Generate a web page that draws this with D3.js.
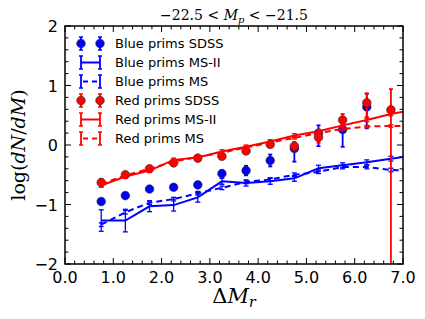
<!DOCTYPE html>
<html>
<head>
<meta charset="utf-8">
<script src="https://cdn.jsdelivr.net/npm/d3@7/dist/d3.min.js"></script>
<style>
  body { margin: 0; background: #fff; }
  svg { display: block; }
  .tick-label { font-family: "DejaVu Sans", sans-serif; font-size: 16px; fill: #000; }
  .legend text { font-family: "DejaVu Sans", sans-serif; font-size: 13px; fill: #000; }
  .serif { font-family: "DejaVu Serif", "Liberation Serif", serif; fill: #000; }
</style>
</head>
<body>
<svg id="chart"></svg>
<script>
// bin centres (Delta M_r)
var xBins = [0.75, 1.25, 1.75, 2.25, 2.75, 3.25, 3.75, 4.25, 4.75, 5.25, 5.75, 6.25, 6.75];
var xModel = [0.75, 1.25, 1.75, 2.25, 2.75, 3.25, 3.75, 4.25, 4.75, 5.25, 5.75, 6.25, 6.75, 7.25];

// SDSS points
var blueSDSS   = [-0.95, -0.85, -0.74, -0.71, -0.67, -0.48, -0.43, -0.26, -0.06, 0.20, 0.26, 0.64, null];
var blueSDSSLo = [0.02, 0.02, 0.02, 0.02, 0.02, 0.05, 0.08, 0.10, 0.22, 0.22, 0.29, 0.36, 0];
var blueSDSSHi = [0.02, 0.02, 0.02, 0.02, 0.02, 0.05, 0.08, 0.10, 0.08, 0.13, 0.08, 0.22, 0];
var redSDSS    = [-0.63, -0.50, -0.40, -0.30, -0.22, -0.19, -0.10, 0.01, -0.02, 0.13, 0.42, 0.71, 0.59];
var redSDSSLo  = [0.06, 0.03, 0.03, 0.03, 0.03, 0.03, 0.04, 0.04, 0.07, 0.09, 0.09, 0.24, 3.0];
var redSDSSHi  = [0.06, 0.03, 0.03, 0.03, 0.03, 0.03, 0.04, 0.04, 0.07, 0.09, 0.10, 0.16, 0.35];

// model curves
var blueMS2    = [-1.27, -1.27, -1.03, -1.01, -0.88, -0.61, -0.64, -0.61, -0.56, -0.39, -0.34, -0.29, -0.23, -0.17];
var blueMS2Err = [0.18, 0.19, 0.09, 0.10, 0.08, 0.05, 0.05, 0.05, 0.05, 0.05, 0.04, 0.04, 0.04, 0.04];
var blueMS     = [-1.34, -1.13, -0.97, -0.91, -0.81, -0.72, -0.62, -0.58, -0.50, -0.45, -0.37, -0.37, -0.42, -0.43];
var blueMSErr  = [0.03, 0.03, 0.03, 0.03, 0.03, 0.03, 0.03, 0.03, 0.03, 0.03, 0.03, 0.03, 0.03, 0.03];
var redMS2     = [-0.68, -0.53, -0.43, -0.25, -0.21, -0.11, -0.03, 0.06, 0.16, 0.23, 0.33, 0.42, 0.52, 0.60];
var redMS2Err  = [0.03, 0.03, 0.03, 0.03, 0.03, 0.03, 0.03, 0.03, 0.03, 0.03, 0.03, 0.03, 0.03, 0.03];
var redMS      = [-0.66, -0.51, -0.40, -0.28, -0.20, -0.13, -0.04, 0.04, 0.12, 0.20, 0.27, 0.31, 0.32, 0.32];
var redMSErr   = [0.02, 0.02, 0.02, 0.02, 0.02, 0.02, 0.02, 0.02, 0.02, 0.02, 0.02, 0.02, 0.02, 0.02];

var xTicks = [0, 1, 2, 3, 4, 5, 6, 7];
var yTicks = [-2, -1, 0, 1, 2];
var legendLabels = ['Blue prims SDSS', 'Blue prims MS-II', 'Blue prims MS',
                    'Red prims SDSS', 'Red prims MS-II', 'Red prims MS'];

(function() {
    'use strict';

    var WIDTH = 425, HEIGHT = 319;
    var margin = { left: 65, right: 22, top: 26, bottom: 55 };
    var BLUE = '#0000ff', RED = '#ff0000';

    var svg = d3.select('#chart').attr('width', WIDTH).attr('height', HEIGHT);

    var x = d3.scaleLinear().domain([0, 7]).range([margin.left, WIDTH - margin.right]);
    var y = d3.scaleLinear().domain([-2, 2]).range([HEIGHT - margin.bottom, margin.top]);

    svg.append('clipPath').attr('id', 'plot-clip')
        .append('rect')
            .attr('x', x(0)).attr('y', y(2))
            .attr('width', x(7) - x(0)).attr('height', y(-2) - y(2));

    var plot = svg.append('g').attr('clip-path', 'url(#plot-clip)');

    function errorBars(g, xs, ys, lo, hi, color, cap, width) {
        var pts = xs.map((d, i) => ({ x: d, y: ys[i], lo: lo[i], hi: hi[i] })).filter(d => d.y !== null);
        var eb = g.append('g').attr('stroke', color).attr('stroke-width', width);
        eb.selectAll('line.bar').data(pts).enter()
            .append('line')
                .attr('class', 'bar')
                .attr('x1', d => x(d.x)).attr('x2', d => x(d.x))
                .attr('y1', d => y(d.y - d.lo)).attr('y2', d => y(d.y + d.hi));
        if (cap > 0) {
            eb.selectAll('line.capT').data(pts).enter()
                .append('line')
                    .attr('x1', d => x(d.x) - cap).attr('x2', d => x(d.x) + cap)
                    .attr('y1', d => y(d.y + d.hi)).attr('y2', d => y(d.y + d.hi));
            eb.selectAll('line.capB').data(pts).enter()
                .append('line')
                    .attr('x1', d => x(d.x) - cap).attr('x2', d => x(d.x) + cap)
                    .attr('y1', d => y(d.y - d.lo)).attr('y2', d => y(d.y - d.lo));
        }
    }

    function points(g, xs, ys, color) {
        var pts = xs.map((d, i) => ({ x: d, y: ys[i] })).filter(d => d.y !== null);
        g.append('g').selectAll('circle').data(pts).enter()
            .append('circle')
                .attr('cx', d => x(d.x)).attr('cy', d => y(d.y)).attr('r', 4.3)
                .attr('fill', color).attr('stroke', '#222').attr('stroke-width', 0.6);
    }

    function curve(g, xs, ys, err, color, dash) {
        var line = d3.line().x((d, i) => x(xs[i])).y(d => y(d));
        g.append('path')
            .attr('d', line(ys))
            .attr('fill', 'none').attr('stroke', color).attr('stroke-width', 2)
            .attr('stroke-dasharray', dash ? '6,4' : null);
        errorBars(g, xs, ys, err, err, color, 2.5, 1.3);
    }

    errorBars(plot, xBins, blueSDSS, blueSDSSLo, blueSDSSHi, BLUE, 2, 1.8);
    points(plot, xBins, blueSDSS, BLUE);
    curve(plot, xModel, blueMS2, blueMS2Err, BLUE, false);
    curve(plot, xModel, blueMS, blueMSErr, BLUE, true);
    errorBars(plot, xBins, redSDSS, redSDSSLo, redSDSSHi, RED, 2, 1.8);
    points(plot, xBins, redSDSS, RED);
    curve(plot, xModel, redMS2, redMS2Err, RED, false);
    curve(plot, xModel, redMS, redMSErr, RED, true);

    // ticks pointing inward on all four sides
    var ticks = svg.append('g').attr('stroke', '#000').attr('stroke-width', 1);
    var xMinor = d3.range(0, 35).map(i => i * 0.2).filter(v => Math.abs(v - Math.round(v)) > 1e-6);
    var yMinor = d3.range(0, 20).map(i => -2 + i * 0.2).filter(v => Math.abs(v - Math.round(v)) > 1e-6);
    [[xTicks, 6], [xMinor, 3.5]].forEach(function(t) {
        t[0].forEach(function(v) {
            ticks.append('line').attr('x1', x(v)).attr('x2', x(v)).attr('y1', y(-2)).attr('y2', y(-2) - t[1]);
            ticks.append('line').attr('x1', x(v)).attr('x2', x(v)).attr('y1', y(2)).attr('y2', y(2) + t[1]);
        });
    });
    [[yTicks, 6], [yMinor, 3.5]].forEach(function(t) {
        t[0].forEach(function(v) {
            ticks.append('line').attr('x1', x(0)).attr('x2', x(0) + t[1]).attr('y1', y(v)).attr('y2', y(v));
            ticks.append('line').attr('x1', x(7)).attr('x2', x(7) - t[1]).attr('y1', y(v)).attr('y2', y(v));
        });
    });

    svg.append('rect')
        .attr('x', x(0)).attr('y', y(2))
        .attr('width', x(7) - x(0)).attr('height', y(-2) - y(2))
        .attr('fill', 'none').attr('stroke', '#000').attr('stroke-width', 1.5);

    svg.append('g').selectAll('text').data(xTicks).enter()
        .append('text')
            .attr('class', 'tick-label')
            .attr('x', d => x(d)).attr('y', y(-2) + 19)
            .attr('text-anchor', 'middle')
            .text(d => d.toFixed(1));

    svg.append('g').selectAll('text').data(yTicks).enter()
        .append('text')
            .attr('class', 'tick-label')
            .attr('x', x(0) - 7).attr('y', d => y(d) + 6)
            .attr('text-anchor', 'end')
            .text(d => d < 0 ? '\u2212' + Math.abs(d) : d);

    // axis labels and title
    var xl = svg.append('text').attr('class', 'serif')
        .attr('x', (x(0) + x(7)) / 2).attr('y', 303).attr('text-anchor', 'middle')
        .style('font-size', '21px');
    xl.append('tspan').text('\u0394');
    xl.append('tspan').style('font-style', 'italic').text('M');
    xl.append('tspan').style('font-style', 'italic').style('font-size', '14px').attr('dy', 4).text('r');

    var yl = svg.append('text').attr('class', 'serif')
        .attr('transform', 'translate(25,' + y(0) + ') rotate(-90)')
        .attr('text-anchor', 'middle').style('font-size', '19px');
    yl.append('tspan').text('log(');
    yl.append('tspan').style('font-style', 'italic').text('dN');
    yl.append('tspan').text('/');
    yl.append('tspan').style('font-style', 'italic').text('dM');
    yl.append('tspan').text(')');

    var title = svg.append('text').attr('class', 'serif')
        .attr('x', (x(0) + x(7)) / 2).attr('y', 20).attr('text-anchor', 'middle')
        .style('font-size', '14px');
    title.append('tspan').text('\u221222.5 < ');
    title.append('tspan').style('font-style', 'italic').text('M');
    title.append('tspan').style('font-style', 'italic').style('font-size', '10px').attr('dy', 3).text('p');
    title.append('tspan').attr('dy', -3).text(' < \u221221.5');

    // legend
    var legend = svg.append('g').attr('class', 'legend');
    var kinds = ['pts', 'solid', 'dash', 'pts', 'solid', 'dash'];
    legendLabels.forEach(function(label, i) {
        var color = i < 3 ? BLUE : RED;
        var ly = 43.5 + i * 19;
        var lx1 = 81, lx2 = 100;
        var g = legend.append('g');
        [lx1, lx2].forEach(function(px) {
            g.append('line').attr('x1', px).attr('x2', px).attr('y1', ly - 6.5).attr('y2', ly + 6.5)
                .attr('stroke', color).attr('stroke-width', 1.8);
            g.append('line').attr('x1', px - 2).attr('x2', px + 2).attr('y1', ly - 6.5).attr('y2', ly - 6.5)
                .attr('stroke', color).attr('stroke-width', 1.5);
            g.append('line').attr('x1', px - 2).attr('x2', px + 2).attr('y1', ly + 6.5).attr('y2', ly + 6.5)
                .attr('stroke', color).attr('stroke-width', 1.5);
        });
        if (kinds[i] === 'pts') {
            [lx1, lx2].forEach(function(px) {
                g.append('circle').attr('cx', px).attr('cy', ly).attr('r', 4.3)
                    .attr('fill', color).attr('stroke', '#222').attr('stroke-width', 0.6);
            });
        } else {
            g.append('line').attr('x1', lx1).attr('x2', lx2).attr('y1', ly).attr('y2', ly)
                .attr('stroke', color).attr('stroke-width', 2)
                .attr('stroke-dasharray', kinds[i] === 'dash' ? '5,4' : null)
                .attr('stroke-dashoffset', kinds[i] === 'dash' ? -2 : null);
        }
        g.append('text').attr('x', 115).attr('y', ly + 4.5).text(label);
    });
})();
</script>
</body>
</html>
